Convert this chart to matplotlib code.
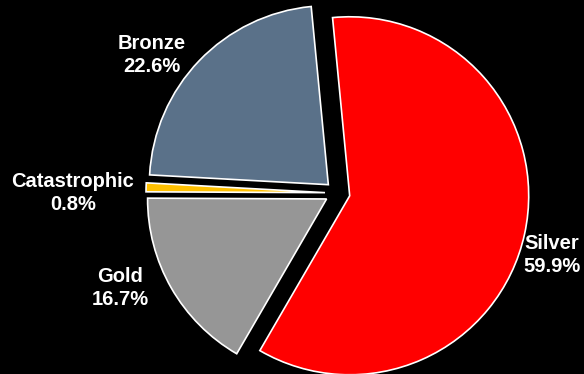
import matplotlib
matplotlib.use('Agg')
import matplotlib.pyplot as plt

# slices, clockwise from the top
names = ['Silver', 'Gold', 'Catastrophic', 'Bronze']
shares = [59.9, 16.7, 0.8, 22.6]
colors = ['#FF0000', '#969696', '#FFC000', '#5A7189']

# label centres in pixels (x right, y up)
label_pos = [(552, 119), (120, 86), (73, 181), (152, 319)]

fig = plt.figure(figsize=(5.84, 3.74), dpi=100, facecolor='black')
ax = fig.add_axes([0, 0, 1, 1])
ax.set_facecolor('black')

# explode is in data units here (pixels)
ax.pie(shares, colors=colors, startangle=95.5, counterclock=False,
       explode=[13, 12, 12, 12], center=(337, 181), radius=179,
       wedgeprops=dict(edgecolor='white', linewidth=1.2))

for name, val, (x, y) in zip(names, shares, label_pos):
    ax.text(x, y, f'{name}\n{val:.1f}%', ha='center', va='center',
            color='white', fontsize=14.5, fontweight='bold',
            family=['Liberation Sans Narrow', 'Liberation Sans'],
            linespacing=1.3)

ax.set_xlim(0, 584)
ax.set_ylim(0, 374)
ax.set_aspect('equal')
ax.axis('off')

fig.savefig('out.png', dpi=100, facecolor='black')
